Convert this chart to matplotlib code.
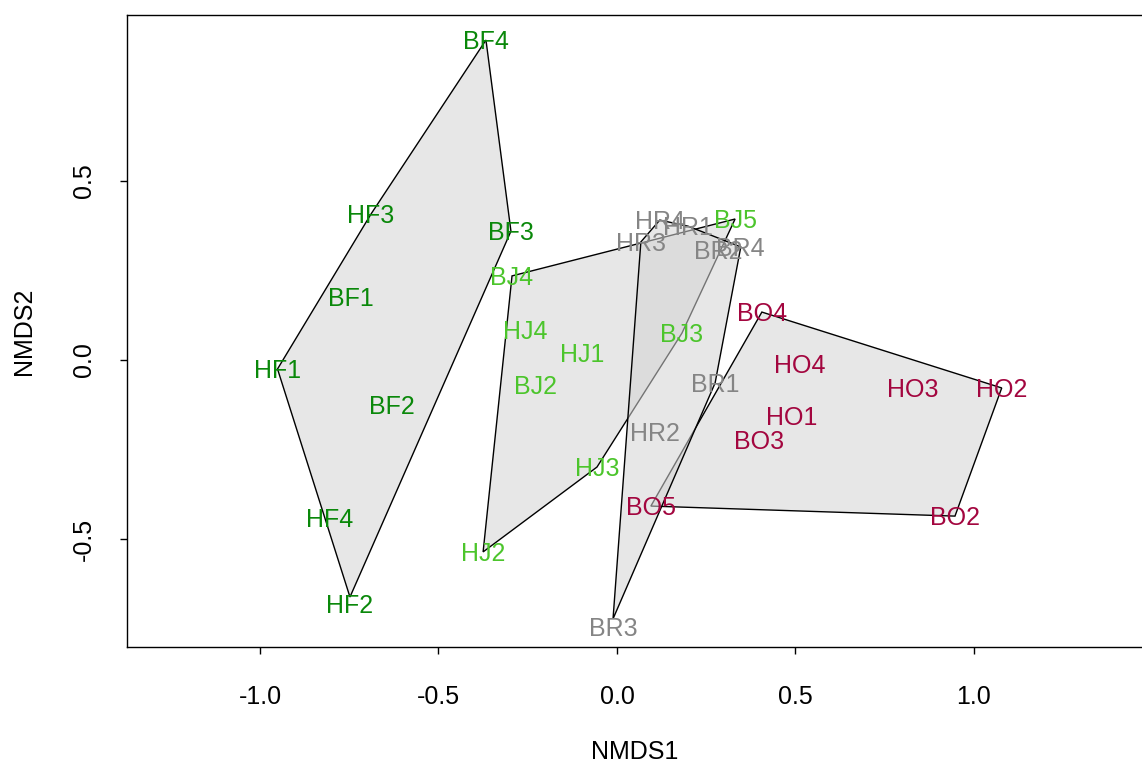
import matplotlib
matplotlib.use("Agg")
import matplotlib.pyplot as plt
import numpy as np
from matplotlib.patches import Polygon

plt.rcParams['font.family'] = ['Liberation Sans', 'DejaVu Sans']

# NMDS site scores
f_names = ["BF4", "HF3", "BF3", "BF1", "HF1", "BF2", "HF4", "HF2"]
f_x = [-0.367, -0.689, -0.297, -0.745, -0.951, -0.630, -0.804, -0.748]
f_y = [0.894, 0.408, 0.360, 0.176, -0.025, -0.126, -0.441, -0.662]

j_names = ["BJ5", "BJ4", "HJ4", "HJ1", "BJ2", "BJ3", "HJ3", "HJ2"]
j_x = [0.331, -0.294, -0.258, -0.098, -0.227, 0.182, -0.056, -0.375]
j_y = [0.394, 0.235, 0.084, 0.020, -0.070, 0.075, -0.299, -0.536]

o_names = ["BO4", "HO4", "HO3", "HO2", "HO1", "BO3", "BO2", "BO5"]
o_x = [0.406, 0.513, 0.829, 1.078, 0.490, 0.398, 0.947, 0.095]
o_y = [0.134, -0.011, -0.078, -0.078, -0.156, -0.223, -0.436, -0.408]

r_names = ["HR4", "HR1", "HR3", "BR2", "BR4", "BR1", "HR2", "BR3"]
r_x = [0.120, 0.199, 0.067, 0.283, 0.347, 0.275, 0.106, -0.011]
r_y = [0.391, 0.374, 0.330, 0.307, 0.316, -0.064, -0.201, -0.723]

groups = [
    (f_names, f_x, f_y, "#0a880a"),
    (j_names, j_x, j_y, "#4cc52c"),
    (o_names, o_x, o_y, "#a3063f"),
    (r_names, r_x, r_y, "#858585"),
]

x_ticks = [-1.0, -0.5, 0.0, 0.5, 1.0]
y_ticks = [-0.5, 0.0, 0.5]

# a few labels sit a bit below their point
label_shift = {"HF2": -5, "BR3": -6}


def convex_hull(pts):
    pts = sorted(set(pts))
    def cross(o, a, b):
        return (a[0] - o[0]) * (b[1] - o[1]) - (a[1] - o[1]) * (b[0] - o[0])
    lower, upper = [], []
    for p in pts:
        while len(lower) >= 2 and cross(lower[-2], lower[-1], p) <= 0:
            lower.pop()
        lower.append(p)
    for p in reversed(pts):
        while len(upper) >= 2 and cross(upper[-2], upper[-1], p) <= 0:
            upper.pop()
        upper.append(p)
    return lower[:-1] + upper[:-1]


fig = plt.figure(figsize=(11.42, 7.63), dpi=100)
ax = fig.add_axes([0.1108, 0.1514, 0.8892, 0.8290])

# hulls in group order, later fills grey out earlier edges
for names, xs, ys, col in groups:
    hull = convex_hull(list(zip(xs, ys)))
    ax.add_patch(Polygon(hull, closed=True, facecolor=(0.83, 0.83, 0.83, 0.55),
                         edgecolor="black", linewidth=1, zorder=3))

for names, xs, ys, col in groups:
    for n, x, y in zip(names, xs, ys):
        ax.annotate(n, (x, y), xytext=(0, -1.5 + label_shift.get(n, 0)),
                    textcoords="offset points", color=col, fontsize=18,
                    ha="center", va="center", zorder=4)

ax.set_xlim(-1.374, 1.471)
ax.set_ylim(-0.803, 0.964)

ax.set_xticks(x_ticks)
ax.set_xticklabels(["-1.0", "-0.5", "0.0", "0.5", "1.0"])
ax.set_yticks(y_ticks)
ax.set_yticklabels(["-0.5", "0.0", "0.5"], rotation=90, va="center")
ax.tick_params(axis="both", length=5, width=1, labelsize=18, direction="out")
ax.tick_params(axis="x", pad=22)
ax.tick_params(axis="y", pad=17)

ax.spines["right"].set_visible(False)
for s in ["top", "left", "bottom"]:
    ax.spines[s].set_linewidth(1)

ax.set_xlabel("NMDS1", fontsize=18)
ax.set_ylabel("NMDS2", fontsize=18)
ax.xaxis.set_label_coords(0.5, -0.165)
ax.xaxis.label.set_va("center")
ax.yaxis.set_label_coords(-0.101, 0.5)
ax.yaxis.label.set_va("center")

fig.savefig("out.png", dpi=100)
